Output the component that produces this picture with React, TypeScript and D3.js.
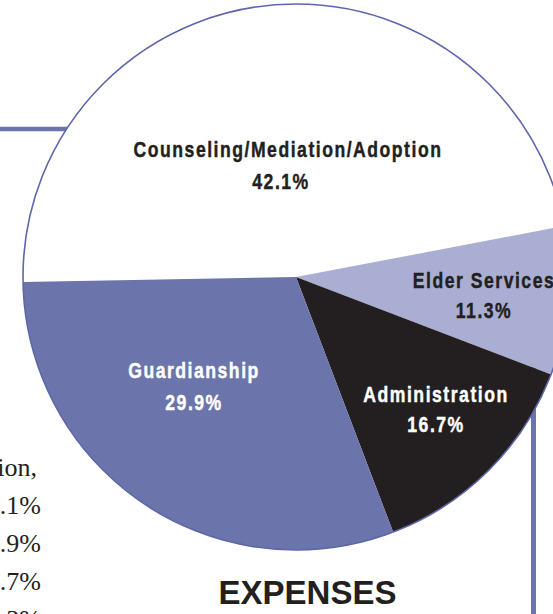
import React from "react";
import * as d3 from "d3";

// Slice categories, in clockwise drawing order starting at 9 o'clock
const categories = [
  "Counseling/Mediation/Adoption",
  "Elder Services",
  "Administration",
  "Guardianship",
];
// Printed percentages (labels)
const percentLabels = ["42.1%", "11.3%", "16.7%", "29.9%"];
// Slice shares as drawn in the picture (angles)
const drawnShares = [47.3, 8.8, 13.4, 30.5];
// Partially visible text column at the left edge
const sideLines = ["Counseling/Mediation/Adoption,", "42.1%", "29.9%", "16.7%", "11.3%"];
const title = "EXPENSES";

const W = 553;
const H = 614;
const CX = 296;
const CY = 277;
const R = 273;

const fills = ["#ffffff", "#a9aed2", "#231f20", "#6b75ab"];
const textColors = ["#231f20", "#231f20", "#ffffff", "#ffffff"];
// label layout: [x line1, y line1, x line2, y line2]
const labelLayout = [
  [288, 157, 281, 189],
  [484, 288, 484, 318],
  [436, 402, 436, 432],
  [194, 378, 194, 410],
];

const SX = 0.8;

function CondText({ x, y, text, fill }: { x: number; y: number; text: string; fill: string }) {
  return (
    <text
      transform={`translate(${x},${y}) scale(${SX},1)`}
      textAnchor="middle"
      fill={fill}
      stroke={fill}
      strokeWidth={0.45}
      fontFamily="'Liberation Sans', Arial, sans-serif"
      fontWeight={700}
      fontSize={22}
      letterSpacing={1.9}
    >
      {text}
    </text>
  );
}

export default function App() {
  const startA = (-91.05 * Math.PI) / 180;
  const pie = d3
    .pie<number>()
    .sort(null)
    .value((d) => d)
    .startAngle(startA)
    .endAngle(startA + 2 * Math.PI);
  const arcs = pie(drawnShares);
  const arc = d3.arc<d3.PieArcDatum<number>>().innerRadius(0).outerRadius(R);

  return (
    <svg
      width={W}
      height={H}
      style={{ position: "absolute", left: 0, top: 0, background: "#fff" }}
    >
      {/* decorative rules behind pie */}
      <line x1={0} x2={120} y1={129} y2={129} stroke="#6b75ab" strokeWidth={4.5} />
      <line x1={533.5} x2={533.5} y1={330} y2={H} stroke="#6b75ab" strokeWidth={5} />

      {/* side text column */}
      <g
        fontFamily="'Liberation Serif', 'DejaVu Serif', serif"
        fontSize={26}
        fill="#231f20"
        textAnchor="end"
      >
        {sideLines.map((t, i) => (
          <text key={i} x={i === 0 ? 37 : 41} y={476 + i * 38}>
            {t}
          </text>
        ))}
      </g>

      <g transform={`translate(${CX},${CY})`}>
        {arcs.map((a, i) => (
          <path key={i} d={arc(a) || ""} fill={fills[i]} />
        ))}
        <circle r={R} fill="none" stroke="#5d66aa" strokeWidth={1.6} />
      </g>

      {categories.map((c, i) => {
        const [x1, y1, x2, y2] = labelLayout[i];
        return (
          <g key={c}>
            <CondText x={x1} y={y1} text={c} fill={textColors[i]} />
            <CondText x={x2} y={y2} text={percentLabels[i]} fill={textColors[i]} />
          </g>
        );
      })}

      <text
        x={307.5}
        y={604}
        textAnchor="middle"
        fontFamily="'Liberation Sans', Arial, sans-serif"
        fontWeight={700}
        fontSize={33}
        fill="#231f20"
      >
        {title}
      </text>
    </svg>
  );
}
